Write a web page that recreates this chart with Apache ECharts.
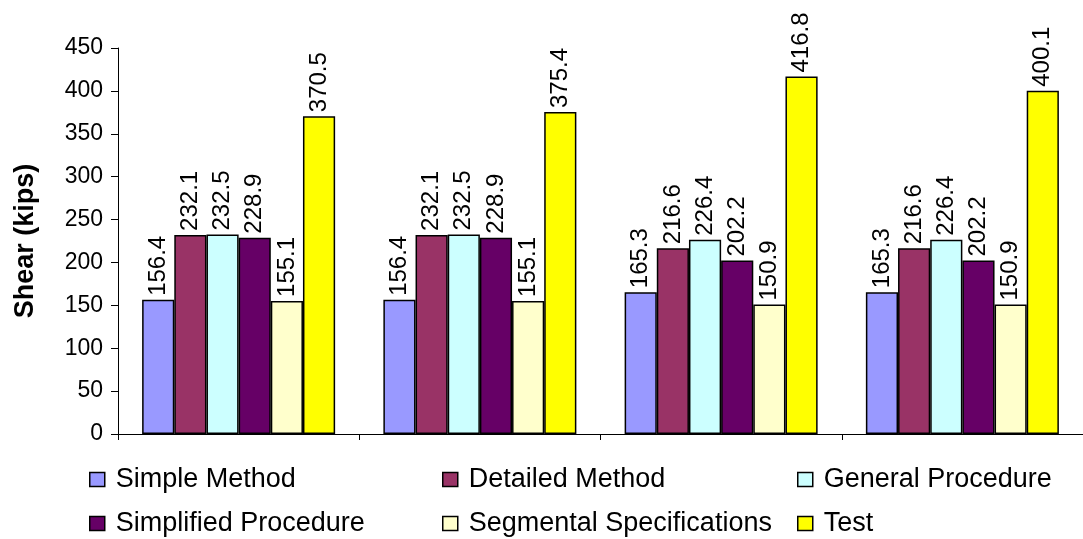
<!DOCTYPE html>
<html><head><meta charset="utf-8">
<script src="https://cdn.jsdelivr.net/npm/echarts@6/dist/echarts.min.js"></script>
<style>html,body{margin:0;padding:0;background:#fff}#c{width:1083px;height:539px}</style>
</head><body><div id="c"></div>
<script>
var categories = ['1', '2', '3', '4'];
var seriesNames = ['Simple Method', 'Detailed Method', 'General Procedure', 'Simplified Procedure', 'Segmental Specifications', 'Test'];
var simpleMethod = [156.4, 156.4, 165.3, 165.3];
var detailedMethod = [232.1, 232.1, 216.6, 216.6];
var generalProcedure = [232.5, 232.5, 226.4, 226.4];
var simplifiedProcedure = [228.9, 228.9, 202.2, 202.2];
var segmentalSpecs = [155.1, 155.1, 150.9, 150.9];
var test = [370.5, 375.4, 416.8, 400.1];
var yTicks = [0, 50, 100, 150, 200, 250, 300, 350, 400, 450];

var colors = ['#9999FF', '#993366', '#CCFFFF', '#660066', '#FFFFCC', '#FFFF00'];
var allData = [simpleMethod, detailedMethod, generalProcedure, simplifiedProcedure, segmentalSpecs, test];
var font = 'Arial, "Liberation Sans", sans-serif';

var series = seriesNames.map(function (n, i) {
  return {
    name: n, type: 'bar', data: allData[i],
    barGap: '0%', barCategoryGap: '20%',
    itemStyle: { color: colors[i], borderColor: '#000', borderWidth: 1.5 },
    label: {
      show: true, position: 'top', rotate: 90, align: 'left', verticalAlign: 'middle',
      distance: 4, fontSize: 24, fontFamily: font, color: '#000',
      formatter: function (p) { return p.value.toFixed(1); }
    }
  };
});

var legendPos = [[89, 466], [442, 466], [797, 466], [89, 510], [442, 510], [797, 510]];
var legends = seriesNames.map(function (n, i) {
  return {
    data: [n], left: legendPos[i][0], top: legendPos[i][1], orient: 'horizontal',
    itemWidth: 15, itemHeight: 14, itemGap: 0, padding: 0,
    textStyle: { fontSize: 27, fontFamily: font, color: '#000', padding: [0, 0, 0, 6] },
    itemStyle: { borderColor: '#000', borderWidth: 1.5 },
    icon: 'rect', selectedMode: false
  };
});

var chart = echarts.init(document.getElementById('c'), null, { renderer: 'canvas' });
chart.setOption({
  animation: false,
  color: colors,
  legend: legends,
  grid: { left: 118, top: 48, width: 968, height: 386, containLabel: false },
  xAxis: {
    type: 'category', data: categories,
    axisLine: { show: true, lineStyle: { color: '#000', width: 1 } },
    axisTick: { show: true, length: 6, lineStyle: { color: '#000' } },
    axisLabel: { show: false },
    splitLine: { show: false }
  },
  yAxis: {
    type: 'value', min: yTicks[0], max: yTicks[yTicks.length - 1], interval: 50,
    name: 'Shear (kips)', nameLocation: 'middle', nameGap: 79,
    nameTextStyle: { fontSize: 27, fontWeight: 'bold', fontFamily: font, color: '#000' },
    axisLine: { show: true, lineStyle: { color: '#000', width: 1 } },
    axisTick: { show: true, length: 7, lineStyle: { color: '#000' } },
    axisLabel: { fontSize: 23, fontFamily: font, color: '#000', margin: 15 },
    splitLine: { show: false }
  },
  series: series
});
</script></body></html>
